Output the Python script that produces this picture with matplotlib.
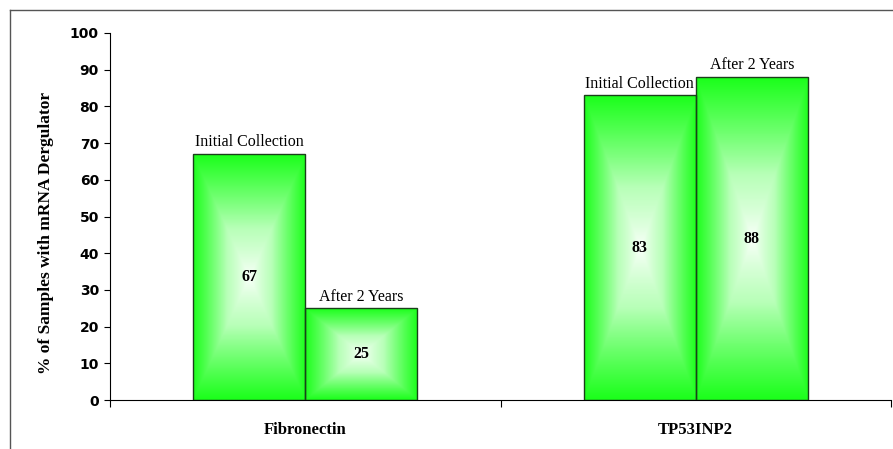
import numpy as np
import matplotlib.pyplot as plt
from matplotlib.colors import LinearSegmentedColormap
from matplotlib.lines import Line2D

# --- data ---
genes = ['Fibronectin', 'TP53INP2']
series = ['Initial Collection', 'After 2 Years']
initial = [67, 83]
after_2y = [25, 88]
yticks = list(range(0, 101, 10))

BAR_W = 0.287
GREEN = '#1cff1c'
SERIF = 'Liberation Serif'
SANS = 'DejaVu Sans'

# white centre -> green edge, like the old office "from centre" fill
cmap = LinearSegmentedColormap.from_list('glow', ['white', '#b8ffb8', GREEN])


def gradient_image(n=200):
    u = np.abs(np.linspace(-1, 1, n))
    uu, vv = np.meshgrid(u, u)
    t = np.maximum(uu, vv)
    return t ** 0.75


fig = plt.figure(figsize=(8.93, 4.49), dpi=100)
ax = fig.add_axes([110 / 893, 1 - 400 / 449, 781 / 893, 367 / 449])

x = np.arange(len(genes))
b1 = ax.bar(x - BAR_W / 2, initial, BAR_W, facecolor='none', edgecolor='#1a401a', linewidth=1.0, zorder=3)
b2 = ax.bar(x + BAR_W / 2, after_2y, BAR_W, facecolor='none', edgecolor='#1a401a', linewidth=1.0, zorder=3)

img = gradient_image()
for bars, name in ((b1, series[0]), (b2, series[1])):
    for p in bars:
        x0, w, h = p.get_x(), p.get_width(), p.get_height()
        ax.imshow(img, cmap=cmap, vmin=0, vmax=1, extent=[x0, x0 + w, 0, h],
                  aspect='auto', interpolation='bilinear', zorder=2)
        ax.text(x0 + w / 2, h + 1.0, name, ha='center', va='bottom',
                fontsize=11.5, family=SERIF)
        ax.text(x0 + w / 2, h / 2, f'{h:.0f}', ha='center', va='center',
                fontsize=11.5, family=SERIF, fontweight='bold', zorder=4)

ax.set_xlim(-0.5, 1.5)
ax.set_ylim(0, 100)
ax.set_yticks(yticks)
ax.set_yticklabels([str(v) for v in yticks], family=SANS, fontweight='bold', fontsize=10)
ax.tick_params(axis='y', direction='out', length=4, pad=4)

ax.set_xticks([-0.5, 0.5, 1.5])
ax.set_xticklabels([])
ax.tick_params(axis='x', which='major', direction='out', length=5)
ax.set_xticks(x, minor=True)
ax.set_xticklabels(genes, minor=True, family=SERIF, fontweight='bold', fontsize=12)
ax.tick_params(axis='x', which='minor', length=0, pad=16)

ax.set_ylabel('% of Samples with mRNA Dergulator', family=SERIF, fontweight='bold', fontsize=12.5)
ax.yaxis.set_label_coords(-0.072, 0.455)

for s in ('top', 'right'):
    ax.spines[s].set_visible(False)

# outer chart frame (cropped on the right and bottom)
fig.add_artist(Line2D([10 / 893, 10 / 893], [0, 1 - 10 / 449], color='#555555', lw=1.0))
fig.add_artist(Line2D([10 / 893, 1], [1 - 10 / 449, 1 - 10 / 449], color='#555555', lw=1.0))

fig.savefig('out.png', dpi=100)
